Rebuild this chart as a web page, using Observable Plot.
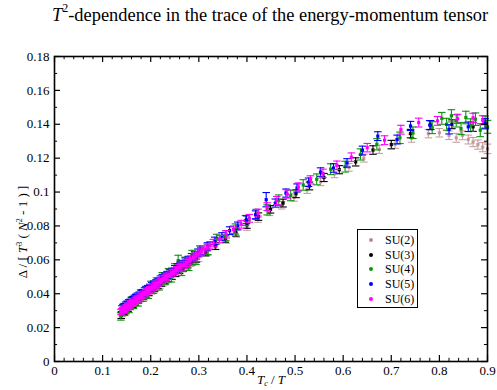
<!DOCTYPE html>
<html><head><meta charset="utf-8">
<script src="https://cdn.jsdelivr.net/npm/d3@7"></script>
<script src="https://cdn.jsdelivr.net/npm/@observablehq/plot@0.6"></script>
<style>
body{margin:0;background:#fff;font-family:"Liberation Serif","Times New Roman",Times,"DejaVu Serif",serif;}
#wrap{position:relative;width:497px;height:390px;overflow:hidden;}
#title{position:absolute;left:52px;top:5px;font-size:18.4px;line-height:21px;white-space:nowrap;color:#000;}
#title sup{font-size:12px;vertical-align:9px;line-height:0;}
#chart{position:absolute;left:0;top:38px;}
#legend{position:absolute;left:357px;top:229px;width:59px;height:77px;border:1.5px solid #000;background:#fff;font-size:12px;}
#legend .row{position:absolute;left:0;height:14px;line-height:14px;white-space:nowrap;}
#legend .mk{position:absolute;left:11px;top:5px;width:4px;height:4px;border-radius:2px;}
#legend .lb{position:absolute;left:27px;top:0;}
</style></head>
<body>
<div id="wrap">
  <div id="title"><i>T</i><sup>2</sup>-dependence in the trace of the energy-momentum tensor</div>
  <div id="chart"></div>
  <div id="legend"></div>
</div>
<script>
// ---- data ----
const seriesNames = ["SU(2)", "SU(3)", "SU(4)", "SU(5)", "SU(6)"];
const seriesColors = ["#bc8f8f", "#000000", "#0a950a", "#0000ff", "#ff00ff"];

const su2X = [0.137,0.141,0.145,0.149,0.153,0.158,0.162,0.167,0.171,0.176,0.181,0.186,0.191,0.197,0.202,0.208,0.213,0.219,0.225,0.232,0.238,0.245,0.252,0.260,0.267,0.275,0.283,0.292,0.300,0.318,0.337,0.357,0.378,0.400,0.423,0.447,0.472,0.498,0.525,0.553,0.582,0.612,0.643,0.675,0.708,0.742,0.777,0.800,0.820,0.835,0.848,0.860,0.870,0.880,0.890,0.900];
const su2Y = [0.0270,0.0282,0.0290,0.0296,0.0308,0.0321,0.0330,0.0342,0.0350,0.0362,0.0372,0.0380,0.0391,0.0405,0.0415,0.0428,0.0438,0.0450,0.0462,0.0478,0.0490,0.0502,0.0518,0.0535,0.0548,0.0562,0.0580,0.0598,0.0610,0.0645,0.0682,0.0718,0.0755,0.0795,0.0842,0.0882,0.0922,0.0968,0.1014,0.1060,0.1108,0.1146,0.1200,0.1252,0.1282,0.1318,0.1345,0.1350,0.1335,0.1320,0.1335,0.1310,0.1295,0.1280,0.1265,0.1255];
const su2E = [0.0017,0.0017,0.0017,0.0017,0.0017,0.0017,0.0017,0.0017,0.0017,0.0017,0.0018,0.0018,0.0018,0.0018,0.0018,0.0018,0.0018,0.0018,0.0018,0.0018,0.0019,0.0019,0.0019,0.0019,0.0019,0.0019,0.0019,0.0019,0.0020,0.0020,0.0020,0.0020,0.0021,0.0021,0.0021,0.0021,0.0022,0.0022,0.0022,0.0022,0.0023,0.0023,0.0023,0.0024,0.0024,0.0024,0.0025,0.0025,0.0025,0.0026,0.0026,0.0026,0.0027,0.0027,0.0027,0.0028];

const su3X = [0.139,0.144,0.148,0.153,0.158,0.163,0.168,0.174,0.179,0.185,0.190,0.196,0.202,0.208,0.215,0.222,0.229,0.236,0.244,0.252,0.260,0.268,0.277,0.286,0.295,0.314,0.334,0.355,0.377,0.400,0.424,0.449,0.475,0.502,0.530,0.560,0.592,0.626,0.662,0.700,0.740,0.782,0.826,0.870];
const su3Y = [0.0272,0.0296,0.0304,0.0314,0.0328,0.0337,0.0350,0.0363,0.0373,0.0387,0.0398,0.0408,0.0422,0.0434,0.0449,0.0463,0.0478,0.0490,0.0505,0.0522,0.0540,0.0554,0.0572,0.0590,0.0607,0.0644,0.0682,0.0725,0.0762,0.0808,0.0855,0.0898,0.0935,0.0990,0.1036,0.1086,0.1132,0.1178,0.1248,0.1280,0.1345,0.1395,0.1400,0.1385];
const su3E = [0.0018,0.0018,0.0018,0.0018,0.0018,0.0018,0.0018,0.0018,0.0019,0.0019,0.0019,0.0019,0.0019,0.0019,0.0019,0.0019,0.0020,0.0020,0.0020,0.0020,0.0020,0.0020,0.0020,0.0020,0.0021,0.0021,0.0021,0.0021,0.0022,0.0022,0.0022,0.0022,0.0023,0.0023,0.0023,0.0024,0.0024,0.0024,0.0025,0.0025,0.0025,0.0026,0.0026,0.0027];

const su4X = [0.138,0.142,0.146,0.151,0.155,0.160,0.164,0.169,0.174,0.179,0.184,0.190,0.195,0.200,0.206,0.212,0.218,0.224,0.230,0.237,0.243,0.250,0.257,0.264,0.271,0.279,0.286,0.294,0.302,0.319,0.337,0.356,0.376,0.397,0.419,0.442,0.466,0.491,0.517,0.545,0.574,0.604,0.636,0.670,0.718,0.745,0.785,0.805,0.815,0.825,0.835,0.845,0.855,0.865,0.875,0.885,0.895,0.900];
const su4Y = [0.0268,0.0312,0.0295,0.0330,0.0312,0.0356,0.0338,0.0372,0.0352,0.0398,0.0380,0.0418,0.0398,0.0448,0.0428,0.0468,0.0448,0.0498,0.0480,0.0522,0.0496,0.0550,0.0595,0.0535,0.0588,0.0565,0.0628,0.0600,0.0655,0.0660,0.0722,0.0742,0.0782,0.0832,0.0868,0.0895,0.0952,0.0980,0.1042,0.1075,0.1135,0.1150,0.1222,0.1282,0.1320,0.1350,0.1380,0.1435,0.1400,0.1450,0.1420,0.1375,0.1440,0.1395,0.1430,0.1365,0.1410,0.1385];
const su4E = [0.0024,0.0024,0.0024,0.0024,0.0024,0.0025,0.0025,0.0025,0.0025,0.0025,0.0025,0.0026,0.0026,0.0026,0.0026,0.0026,0.0026,0.0027,0.0027,0.0027,0.0027,0.0027,0.0032,0.0028,0.0028,0.0028,0.0028,0.0028,0.0028,0.0029,0.0029,0.0029,0.0030,0.0030,0.0030,0.0030,0.0031,0.0031,0.0031,0.0032,0.0032,0.0032,0.0033,0.0033,0.0034,0.0034,0.0035,0.0035,0.0035,0.0036,0.0036,0.0036,0.0037,0.0037,0.0037,0.0038,0.0038,0.0038];

const su5X = [0.140,0.143,0.145,0.148,0.151,0.154,0.157,0.160,0.163,0.166,0.169,0.172,0.176,0.180,0.183,0.187,0.190,0.194,0.198,0.202,0.206,0.211,0.215,0.220,0.224,0.229,0.234,0.239,0.244,0.250,0.255,0.261,0.266,0.272,0.278,0.285,0.291,0.298,0.304,0.318,0.333,0.348,0.364,0.381,0.399,0.418,0.440,0.459,0.481,0.504,0.528,0.553,0.580,0.608,0.640,0.672,0.712,0.740,0.780,0.820,0.860,0.895];
const su5Y = [0.0312,0.0322,0.0326,0.0334,0.0340,0.0348,0.0351,0.0360,0.0366,0.0373,0.0378,0.0386,0.0392,0.0402,0.0407,0.0417,0.0422,0.0430,0.0437,0.0448,0.0456,0.0464,0.0472,0.0486,0.0494,0.0502,0.0512,0.0522,0.0531,0.0546,0.0557,0.0565,0.0576,0.0590,0.0600,0.0616,0.0627,0.0642,0.0653,0.0679,0.0712,0.0738,0.0772,0.0800,0.0836,0.0866,0.0955,0.0935,0.0994,0.1024,0.1058,0.1118,0.1142,0.1172,0.1245,0.1330,0.1310,0.1390,0.1395,0.1370,0.1385,0.1405];
const su5E = [0.0017,0.0017,0.0017,0.0017,0.0017,0.0017,0.0017,0.0017,0.0018,0.0018,0.0018,0.0018,0.0018,0.0018,0.0018,0.0018,0.0019,0.0019,0.0019,0.0019,0.0019,0.0019,0.0019,0.0019,0.0020,0.0020,0.0020,0.0020,0.0020,0.0020,0.0020,0.0021,0.0021,0.0021,0.0021,0.0021,0.0021,0.0022,0.0022,0.0022,0.0022,0.0022,0.0023,0.0023,0.0023,0.0023,0.0042,0.0024,0.0024,0.0024,0.0025,0.0025,0.0025,0.0025,0.0026,0.0026,0.0026,0.0027,0.0027,0.0027,0.0028,0.0028];

const su6X = [0.138,0.140,0.142,0.144,0.146,0.148,0.150,0.153,0.155,0.158,0.160,0.163,0.165,0.168,0.170,0.173,0.175,0.178,0.180,0.183,0.186,0.189,0.192,0.195,0.198,0.202,0.205,0.209,0.212,0.216,0.220,0.224,0.228,0.232,0.236,0.241,0.245,0.250,0.254,0.259,0.263,0.268,0.273,0.278,0.283,0.289,0.294,0.300,0.305,0.311,0.317,0.323,0.330,0.343,0.357,0.372,0.388,0.405,0.423,0.442,0.462,0.484,0.507,0.532,0.558,0.587,0.617,0.650,0.686,0.720,0.757,0.796,0.838,0.870,0.890];
const su6Y = [0.0292,0.0297,0.0302,0.0306,0.0311,0.0316,0.0320,0.0326,0.0331,0.0338,0.0343,0.0348,0.0352,0.0360,0.0365,0.0370,0.0374,0.0381,0.0387,0.0392,0.0398,0.0406,0.0412,0.0418,0.0424,0.0434,0.0440,0.0448,0.0455,0.0463,0.0470,0.0480,0.0489,0.0496,0.0503,0.0515,0.0524,0.0534,0.0541,0.0552,0.0560,0.0571,0.0581,0.0591,0.0602,0.0614,0.0625,0.0638,0.0649,0.0661,0.0673,0.0686,0.0699,0.0722,0.0751,0.0778,0.0810,0.0845,0.0876,0.0914,0.0950,0.0988,0.1030,0.1072,0.1110,0.1158,0.1206,0.1262,0.1306,0.1368,0.1410,0.1420,0.1432,0.1438,0.1424];
const su6E = [0.0016,0.0016,0.0016,0.0016,0.0016,0.0016,0.0016,0.0016,0.0016,0.0017,0.0017,0.0017,0.0017,0.0017,0.0017,0.0017,0.0017,0.0017,0.0017,0.0018,0.0018,0.0018,0.0018,0.0018,0.0018,0.0018,0.0018,0.0018,0.0019,0.0019,0.0019,0.0019,0.0019,0.0019,0.0019,0.0019,0.0020,0.0020,0.0020,0.0020,0.0020,0.0020,0.0020,0.0020,0.0021,0.0021,0.0021,0.0021,0.0021,0.0021,0.0021,0.0022,0.0022,0.0022,0.0022,0.0022,0.0023,0.0023,0.0023,0.0023,0.0024,0.0024,0.0024,0.0024,0.0025,0.0025,0.0025,0.0025,0.0026,0.0026,0.0026,0.0026,0.0027,0.0027,0.0027];

const xTicks = [0, 0.1, 0.2, 0.3, 0.4, 0.5, 0.6, 0.7, 0.8, 0.9];
const xMinorTicks = [0.02,0.04,0.06,0.08,0.12,0.14,0.16,0.18,0.22,0.24,0.26,0.28,0.32,0.34,0.36,0.38,0.42,0.44,0.46,0.48,0.52,0.54,0.56,0.58,0.62,0.64,0.66,0.68,0.72,0.74,0.76,0.78,0.82,0.84,0.86,0.88];
const yTicks = [0, 0.02, 0.04, 0.06, 0.08, 0.1, 0.12, 0.14, 0.16, 0.18];
const yMinorTicks = [0.01,0.03,0.05,0.07,0.09,0.11,0.13,0.15,0.17];

// ---- build table ----
const seriesData = [[su2X,su2Y,su2E],[su3X,su3Y,su3E],[su4X,su4Y,su4E],[su5X,su5Y,su5E],[su6X,su6Y,su6E]];
const rows = [];
seriesData.forEach(([xs, ys, es], k) => xs.forEach((x, i) => rows.push({series: seriesNames[k], x, y: ys[i], e: es[i]})));

const FONT = "'Liberation Serif', 'Times New Roman', Times, 'DejaVu Serif', serif";
const cap = 0.0078;       // half cap width in x units
const tkX = 0.0125, tkXm = 0.0064;  // tick lengths (x units) for y-axis ticks
const tkY = 0.0036, tkYm = 0.0019;  // tick lengths (y units) for x-axis ticks
const fmt = d => String(+d.toFixed(2));

const marks = [];
seriesNames.forEach(name => {
  const d = rows.filter(r => r.series === name);
  const op = name === "SU(2)" ? 0.85 : 1;
  marks.push(Plot.ruleX(d, {x: "x", y1: r => r.y - r.e, y2: r => r.y + r.e, stroke: "series", strokeWidth: 1.1, strokeOpacity: op}));
  marks.push(Plot.link(d, {x1: r => r.x - cap, x2: r => r.x + cap, y1: r => r.y + r.e, y2: r => r.y + r.e, stroke: "series", strokeWidth: 1.1, strokeOpacity: op}));
  marks.push(Plot.link(d, {x1: r => r.x - cap, x2: r => r.x + cap, y1: r => r.y - r.e, y2: r => r.y - r.e, stroke: "series", strokeWidth: 1.1, strokeOpacity: op}));
  marks.push(Plot.dot(d, {x: "x", y: "y", r: 1.8, symbol: "square", fill: "series", fillOpacity: op, stroke: "none"}));
});

// inward ticks on all four sides
marks.push(Plot.ruleX(xTicks, {x: d => d, y1: 0, y2: tkY, stroke: "#000", strokeWidth: 1.2}));
marks.push(Plot.ruleX(xMinorTicks, {x: d => d, y1: 0, y2: tkYm, stroke: "#000", strokeWidth: 1}));
marks.push(Plot.ruleX(xTicks, {x: d => d, y1: 0.18, y2: 0.18 - tkY, stroke: "#000", strokeWidth: 1.2}));
marks.push(Plot.ruleX(xMinorTicks, {x: d => d, y1: 0.18, y2: 0.18 - tkYm, stroke: "#000", strokeWidth: 1}));
marks.push(Plot.ruleY(yTicks, {y: d => d, x1: 0, x2: tkX, stroke: "#000", strokeWidth: 1.2}));
marks.push(Plot.ruleY(yMinorTicks, {y: d => d, x1: 0, x2: tkXm, stroke: "#000", strokeWidth: 1}));
marks.push(Plot.ruleY(yTicks, {y: d => d, x1: 0.9, x2: 0.9 - tkX, stroke: "#000", strokeWidth: 1.2}));
marks.push(Plot.ruleY(yMinorTicks, {y: d => d, x1: 0.9, x2: 0.9 - tkXm, stroke: "#000", strokeWidth: 1}));
marks.push(Plot.frame({stroke: "#000", strokeWidth: 1.6}));

const chart = Plot.plot({
  width: 497,
  height: 352,
  marginLeft: 54,
  marginRight: 10,
  marginTop: 18,
  marginBottom: 29,
  style: {fontFamily: FONT, fontSize: "13px", background: "#fff", color: "#000", overflow: "visible"},
  x: {domain: [0, 0.9], ticks: xTicks, tickFormat: fmt, tickSize: 0, tickPadding: 4, label: null},
  y: {domain: [0, 0.18], ticks: yTicks, tickFormat: fmt, tickSize: 0, tickPadding: 5, label: null},
  color: {domain: seriesNames, range: seriesColors},
  marks
});
document.getElementById("chart").appendChild(chart);

// axis titles with italics / superscripts
const svg = d3.select(chart);
const xl = svg.append("text").attr("x", 271).attr("y", 346).attr("text-anchor", "middle")
  .attr("font-family", FONT).attr("font-size", 13).attr("fill", "#000");
xl.append("tspan").attr("font-style", "italic").text("T");
xl.append("tspan").attr("font-style", "italic").attr("font-size", 8).attr("dy", 2).text("c");
xl.append("tspan").attr("dy", -2).text(" / ");
xl.append("tspan").attr("font-style", "italic").text("T");

const yl = svg.append("text").attr("transform", "translate(27,194) rotate(-90)").attr("text-anchor", "middle")
  .attr("font-family", FONT).attr("font-size", 13).attr("fill", "#000")
  .style("white-space", "pre");
yl.append("tspan").text("\u0394 / [ ");
yl.append("tspan").attr("font-style", "italic").text("T");
yl.append("tspan").attr("font-size", 8).attr("dy", -5).text("3");
yl.append("tspan").attr("dy", 5).text(" ( ");
yl.append("tspan").attr("font-style", "italic").text("N");
yl.append("tspan").attr("font-size", 8).attr("dy", -5).text("2");
yl.append("tspan").attr("dy", 5).text(" - 1 ) ]");

// legend box
const leg = document.getElementById("legend");
seriesNames.forEach((n, i) => {
  const row = document.createElement("div");
  row.className = "row";
  row.style.top = (3 + i * 14.7) + "px";
  row.style.width = "59px";
  row.innerHTML = `<span class="mk" style="background:${seriesColors[i]}"></span><span class="lb">${n}</span>`;
  leg.appendChild(row);
});
</script>
</body></html>
